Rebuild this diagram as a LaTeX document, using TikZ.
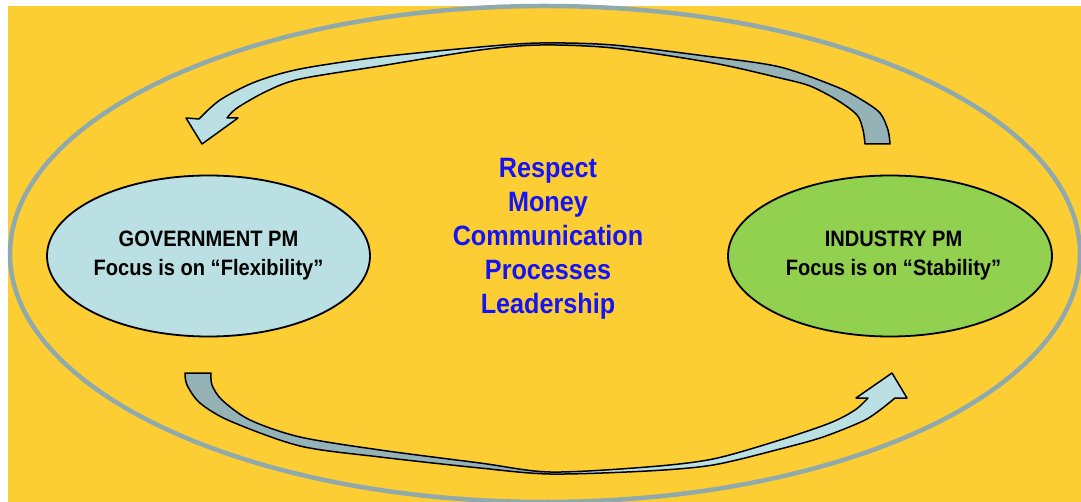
\documentclass[tikz,border=0pt]{standalone}
\usepackage{fontspec}
\setmainfont{Liberation Sans}[FakeStretch=0.9]
\usetikzlibrary{shapes.geometric}
\definecolor{bgyellow}{HTML}{FDCD34}
\definecolor{ringgray}{HTML}{8FA9AD}
\definecolor{lightblue}{HTML}{BBE0E3}
\definecolor{arrowgray}{HTML}{95B3B6}
\definecolor{pmgreen}{HTML}{92D050}
\definecolor{topicblue}{HTML}{1414F5}
\newcommand\toparrowpath{(202,144) -- (186,118) -- (199,119) -- plot[smooth] coordinates {(199,119) (220,100) (255,82) (300,69) (380,57) (480,47) (540,43) (613,45) (713,57) (780,67) (837,87) (862,100) (880,113) (888,130) (890,144)} -- (865,144) -- plot[smooth] coordinates {(865,144) (863,130) (857,115) (837,100) (810,86) (780,78) (713,63) (613,48) (540,45) (480,50) (380,66) (300,79) (267,91) (237,108) (227,118)} -- (238,118) -- cycle}
\newcommand\botarrowpath{(185,373) -- plot[smooth] coordinates {(185,373) (187,385) (200,403) (230,421) (300,446) (380,457) (480,468) (550,474) (647,471) (713,465) (780,449) (823,437) (863,421) (880,410) (895,398)} -- (907,398) -- (892,373) -- (856,398) -- (868,398) -- plot[smooth] coordinates {(868,398) (855,410) (830,423) (780,440) (713,459) (647,467) (550,472) (480,463) (380,450) (300,437) (250,420) (222,400) (212,385) (211,373)} -- cycle}
\tikzset{
  ring/.style={draw=ringgray, line width=4.5pt},
  pmell/.style={ellipse, draw=black, line width=1.8pt, inner sep=0pt, minimum width=323pt, minimum height=161pt},
  pmtext/.style={align=center, inner sep=0pt, font=\fontsize{22.3}{28.5}\selectfont\bfseries},
  topics/.style={align=center, inner sep=0pt, text=topicblue, font=\fontsize{28}{34}\selectfont\bfseries},
  arrowedge/.style={draw=black, line width=1.5pt, line join=round},
}
\begin{document}
\begin{tikzpicture}[x=1pt,y=-1pt]
\useasboundingbox (0,0) rectangle (1081,502);
\fill[white] (0,0) rectangle (1081,502);
\fill[bgyellow] (8,6) rectangle (1081,502);
\draw[ring] (545,254) ellipse [x radius=535, y radius=248];
% top curved arrow (right to left)
\fill[arrowgray] \toparrowpath;
\begin{scope}
  \clip (0,0) rectangle (545,502);
  \fill[lightblue] \toparrowpath;
\end{scope}
\draw[arrowedge] \toparrowpath;
% bottom curved arrow (left to right)
\fill[arrowgray] \botarrowpath;
\begin{scope}
  \clip (545,0) rectangle (1081,502);
  \fill[lightblue] \botarrowpath;
\end{scope}
\draw[arrowedge] \botarrowpath;
% ellipses
\node[pmell, fill=lightblue] (gov) at (208.5,256) {};
\node[pmell, fill=pmgreen, minimum width=324pt] (ind) at (890,256) {};
\node[pmtext] (govtext) at (208.5,255.5) {GOVERNMENT PM\\Focus is on “Flexibility”};
\node[pmtext] (indtext) at (893.5,255.5) {INDUSTRY PM\\Focus is on “Stability”};
\node[topics] (topics) at (548,239) {Respect\\Money\\Communication\\Processes\\Leadership};
\end{tikzpicture}
\end{document}
